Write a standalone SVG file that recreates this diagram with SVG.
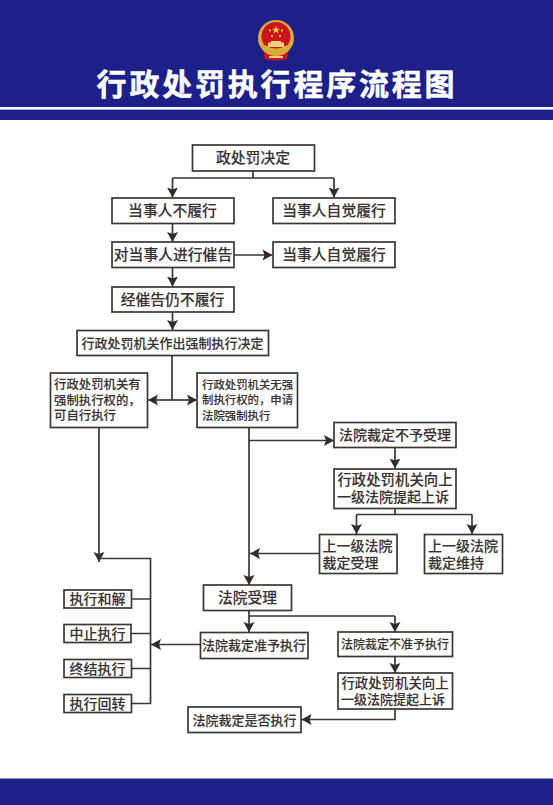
<svg xmlns="http://www.w3.org/2000/svg" width="553" height="805" viewBox="0 0 553 805">
<defs>
<marker id="ah" markerUnits="userSpaceOnUse" markerWidth="11" markerHeight="12" refX="10" refY="5.500" orient="auto"><path d="M0 0L10 5.500L0 11L2 5.500Z" fill="#332c2b"/></marker>
</defs>
<style>
.n{fill:#fff;stroke:#3d3635;stroke-width:1.700}
.t{font-family:"Noto Sans CJK SC","Noto Sans",sans-serif;font-weight:500;fill:#3a3332;stroke:#3a3332;stroke-width:.12;text-anchor:middle;font-size:14.800px}
.s14{font-size:14px}
.s13{font-size:13px}
.l{text-anchor:start}
.c{fill:none;stroke:#3d3635;stroke-width:1.700}
.a{marker-end:url(#ah)}
</style>
<rect width="553" height="805" fill="#fff"/>
<g id="header">
<rect width="553" height="120" fill="#1d2088"/>
<rect y="107" width="553" height="2.600" fill="#fff"/>
<text x="277" y="95" font-family="'Noto Sans CJK SC',sans-serif" font-weight="700" font-size="30px" fill="#fff" stroke="#fff" stroke-width=".5" text-anchor="middle" letter-spacing="2.800">行政处罚执行程序流程图</text>
</g>
<g id="emblem">
<path d="M263 50H289L287 59Q276 62 265 59Z" fill="#c9161d"/>
<circle cx="276" cy="38" r="18" fill="#d9a93a"/>
<circle cx="276" cy="36.500" r="14.500" fill="#c9161d"/>
<path d="M262 48Q276 58 290 48L287 45Q276 52 265 45Z" fill="#d9a93a"/>
<rect x="268" y="42.500" width="16" height="4.500" fill="#edd079"/>
<rect x="271" y="41" width="10" height="2" fill="#edd079"/>
<path d="M276 26l1 2.800h3l-2.400 1.700 1 2.900-2.600-1.800-2.600 1.800 1-2.900-2.400-1.700h3z" fill="#f5d03c"/>
<circle cx="270" cy="30.500" r="1.100" fill="#f5d03c"/><circle cx="282" cy="30.500" r="1.100" fill="#f5d03c"/><circle cx="272" cy="36" r="1.100" fill="#f5d03c"/><circle cx="280" cy="36" r="1.100" fill="#f5d03c"/>
<rect x="269" y="56" width="14" height="2" fill="#edd079"/>
</g>
<rect id="footer" y="778.500" width="553" height="26.500" fill="#1d2088"/>
<g id="connectors">
<path class="c" d="M253 171V178M172.500 178H334"/>
<path class="c a" d="M172.500 178V197.500"/>
<path class="c a" d="M334 178V197.500"/>
<path class="c a" d="M172.500 223V242"/>
<path class="c a" d="M233.500 255H272.500"/>
<path class="c a" d="M172.500 268V286.500"/>
<path class="c a" d="M172.500 312V330"/>
<path class="c" d="M172 356V400"/>
<path class="c a" d="M172 400H148"/>
<path class="c a" d="M172 400H197"/>
<path class="c a" d="M99 427.500V562"/>
<path class="c" d="M99 558.500H150.500V703.500H131.500M131.500 599H150.500M131 633.500H150.500M131.500 668.500H150.500"/>
<path class="c a" d="M249 427.500V585"/>
<path class="c a" d="M249 440.500H334"/>
<path class="c a" d="M395 447.500V468.500"/>
<path class="c" d="M395 508.500V514.500H356.500M395 514.500H472"/>
<path class="c a" d="M356.500 514.500V534"/>
<path class="c a" d="M472 514.500V534"/>
<path class="c a" d="M319.500 553.500H250"/>
<path class="c a" d="M249 611V632"/>
<path class="c" d="M249 616H395"/>
<path class="c a" d="M395 616V632"/>
<path class="c a" d="M395 657V673"/>
<path class="c a" d="M200 644.500H151"/>
<path class="c a" d="M395 709V719.500H301.500"/>
</g>
<g id="n1"><rect class="n" x="192.500" y="145" width="122" height="26"/><text class="t" x="253" y="163">政处罚决定</text></g>
<g id="n2"><rect class="n" x="112" y="198" width="122" height="25.500"/><text class="t" x="172.500" y="216">当事人不履行</text></g>
<g id="n3"><rect class="n" x="273" y="198" width="122" height="25.500"/><text class="t" x="334" y="216">当事人自觉履行</text></g>
<g id="n4"><rect class="n" x="112" y="242" width="122" height="25.500"/><text class="t" x="173" y="260">对当事人进行催告</text></g>
<g id="n5"><rect class="n" x="273" y="242" width="122" height="25.500"/><text class="t" x="334" y="260">当事人自觉履行</text></g>
<g id="n6"><rect class="n" x="112" y="287" width="122" height="25"/><text class="t" x="172.500" y="305">经催告仍不履行</text></g>
<g id="n7"><rect class="n" x="77" y="330.500" width="191.500" height="25"/><text class="t s13" x="172.500" y="348">行政处罚机关作出强制执行决定</text></g>
<g id="n8"><rect class="n" x="50.500" y="373" width="97" height="54.500"/><text class="t l" style="font-size:12.400px" x="54" y="389">行政处罚机关有<tspan x="54" dy="15.500">强制执行权的，</tspan><tspan x="54" dy="15.500">可自行执行</tspan></text></g>
<g id="n9"><rect class="n" x="197" y="373" width="100.500" height="54.500"/><text class="t l" style="font-size:11.400px" x="202" y="388.500">行政处罚机关无强<tspan x="202" dy="15.500">制执行权的，申请</tspan><tspan x="202" dy="15.500">法院强制执行</tspan></text></g>
<g id="n10"><rect class="n" x="334" y="422.500" width="122" height="25"/><text class="t s14" x="395" y="440">法院裁定不予受理</text></g>
<g id="n11"><rect class="n" x="334" y="469" width="122" height="39.500"/><text class="t" style="font-size:14.400px" x="395" y="485">行政处罚机关向上<tspan x="393" dy="16.500" style="font-size:14px">一级法院提起上诉</tspan></text></g>
<g id="n12"><rect class="n" x="319.500" y="534.500" width="77.500" height="39"/><text class="t l s14" x="322.500" y="551">上一级法院<tspan x="322.500" dy="17">裁定受理</tspan></text></g>
<g id="n13"><rect class="n" x="424.500" y="534.500" width="78" height="39"/><text class="t l s14" x="428" y="551">上一级法院<tspan x="428" dy="17">裁定维持</tspan></text></g>
<g id="n14"><rect class="n" x="203.500" y="585" width="88" height="25.500"/><text class="t" x="247.500" y="603">法院受理</text></g>
<g id="n15"><rect class="n" x="64" y="590" width="67.500" height="18"/><text class="t s14" x="97.500" y="604">执行和解</text></g>
<g id="n16"><rect class="n" x="64" y="624.500" width="67" height="18"/><text class="t s14" x="97.500" y="638.500">中止执行</text></g>
<g id="n17"><rect class="n" x="64" y="659.500" width="67.500" height="18"/><text class="t s14" x="97.500" y="673.500">终结执行</text></g>
<g id="n18"><rect class="n" x="64" y="694.500" width="67.500" height="18"/><text class="t s14" x="97.500" y="708.500">执行回转</text></g>
<g id="n19"><rect class="n" x="200.500" y="632.500" width="107.500" height="26"/><text class="t s13" x="254" y="650">法院裁定准予执行</text></g>
<g id="n20"><rect class="n" x="338" y="632" width="114.500" height="24.500"/><text class="t" style="font-size:12px" x="395" y="649">法院裁定不准予执行</text></g>
<g id="n21"><rect class="n" x="338" y="673" width="114.500" height="36"/><text class="t" style="font-size:13.400px" x="395" y="688">行政处罚机关向上<tspan x="393" dy="15.500" style="font-size:13px">一级法院提起上诉</tspan></text></g>
<g id="n22"><rect class="n" x="188" y="707" width="113" height="25.500"/><text class="t s13" x="244.500" y="725">法院裁定是否执行</text></g>
</svg>
